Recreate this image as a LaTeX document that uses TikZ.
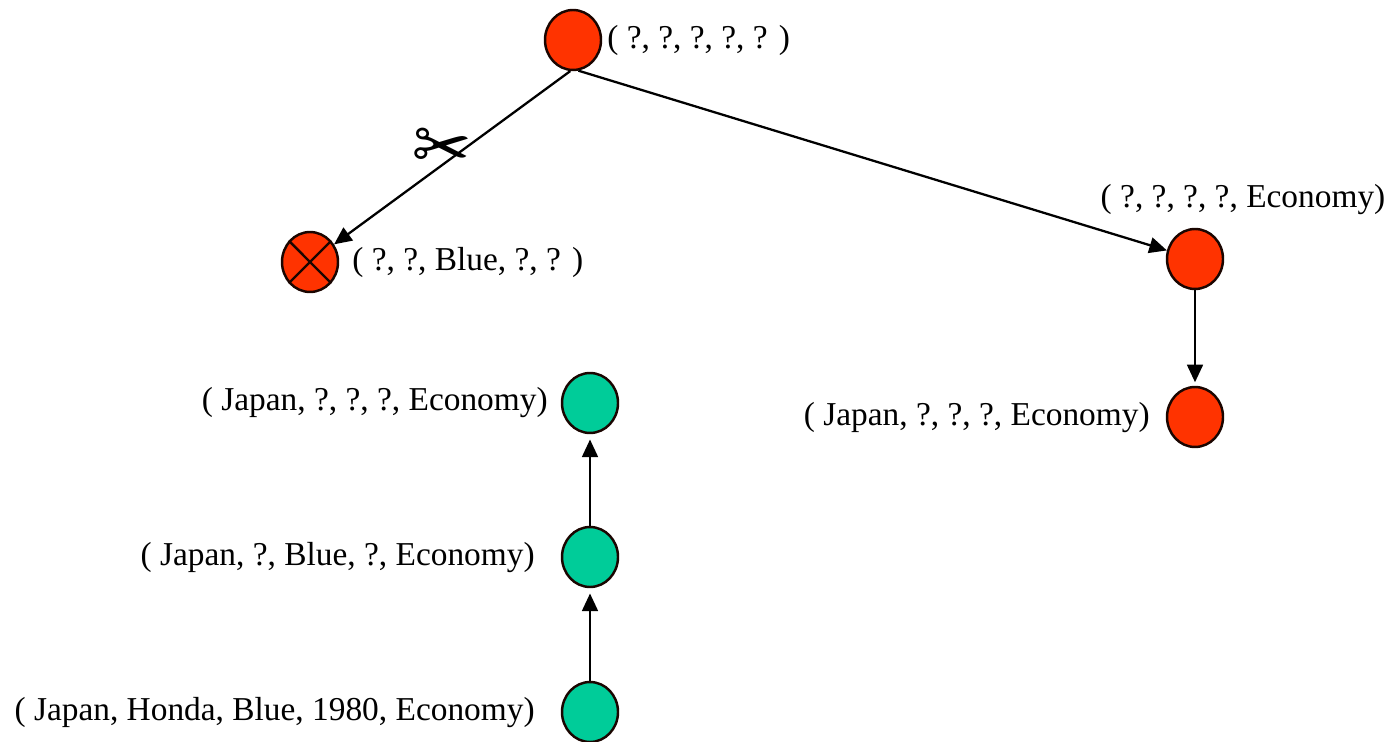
\documentclass[tikz,border=0pt]{standalone}
\usepackage{fontspec}
\setmainfont{Liberation Serif}
\newfontfamily\symfont{DejaVu Sans}
\usetikzlibrary{arrows.meta,positioning,shapes.geometric}
\definecolor{tuplered}{HTML}{FF3300}
\definecolor{tuplegreen}{HTML}{00CC99}
\definecolor{rim}{HTML}{1A0500}

\begin{document}
\begin{tikzpicture}[x=0.02cm, y=-0.02cm,
    cell/.style={ellipse, draw=rim, line width=1.4pt, minimum width=1.12cm, minimum height=1.2cm, inner sep=0pt},
    redcell/.style={cell, fill=tuplered},
    greencell/.style={cell, fill=tuplegreen},
    tuple/.style={font=\fontsize{19}{22}\selectfont, inner sep=0pt},
    link/.style={-{Triangle[length=10pt,width=9pt]}, line width=1.3pt}]
  \useasboundingbox (0,0) rectangle (1391,742);
  % lattice nodes
  \node[redcell] (root) at (573,40) {};
  \node[redcell] (blue) at (310,262) {};
  \node[redcell] (econ) at (1195,259) {};
  \node[redcell] (japecon) at (1195,417) {};
  \foreach \name/\y in {g1/403, g2/557, g3/712}
    \node[greencell] (\name) at (590,\y) {};
  \draw[rim, line width=1.4pt] (blue.45) -- (blue.225) (blue.135) -- (blue.315);
  % tuples
  \node[tuple, anchor=west] (rootlab) at (607,40) {( ?, ?, ?, ?, ? )};
  \node[tuple, anchor=west] (bluelab) at (352,262) {( ?, ?, Blue, ?, ? )};
  \node[tuple] (econlab) at (1243,200) {( ?, ?, ?, ?, Economy)};
  \node[tuple, anchor=east] (japeconlab) at (1150,418) {( Japan, ?, ?, ?, Economy)};
  \node[tuple, anchor=east] (g1lab) at (548,403) {( Japan, ?, ?, ?, Economy)};
  \node[tuple, anchor=east] (g2lab) at (535,558) {( Japan, ?, Blue, ?, Economy)};
  \node[tuple, anchor=east] (g3lab) at (535,713) {( Japan, Honda, Blue, 1980, Economy)};
  % arrows
  \draw[link] (root.-95) -- (blue);
  \draw[link] (root.-80) -- (econ);
  \draw[link, shorten >=2pt] (econ) -- (japecon);
  \draw[link, shorten >=3pt] (g2) -- (g1);
  \draw[link, shorten >=3pt] (g3) -- (g2);
  \node[font=\symfont\fontsize{40}{40}\selectfont, rotate=-5] (cut) at (442,150) {✂};
\end{tikzpicture}
\end{document}
